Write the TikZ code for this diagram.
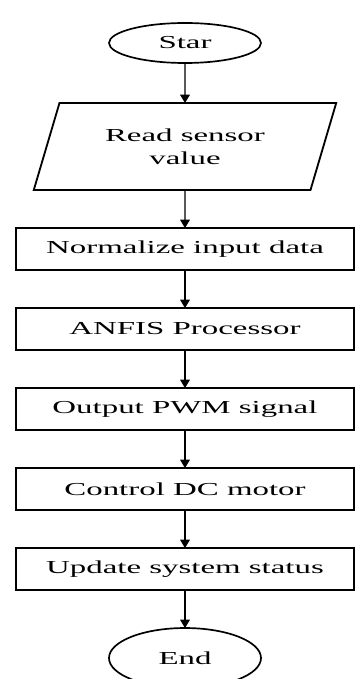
\documentclass[tikz,border=0pt]{standalone}
\usepackage{fontspec}
\setmainfont[FakeStretch=1.8]{Liberation Serif}
\usetikzlibrary{positioning, shapes.geometric, arrows.meta}

\begin{document}
\begin{tikzpicture}[
    terminal/.style={draw, line width=1.2pt, shape=ellipse, minimum width=3.8cm, minimum height=1cm, inner sep=0pt, outer sep=0pt, align=center},
    iobox/.style={draw, line width=1.3pt, shape=trapezium, trapezium left angle=69, trapezium right angle=111, trapezium stretches=true, minimum width=7.575cm, minimum height=2.175cm, outer sep=0pt, align=center},
    stepbox/.style={draw, line width=1.4pt, minimum width=8.45cm, minimum height=1.05cm, inner sep=0pt, outer sep=0pt, align=center},
    arrow/.style={-{Triangle[width=7pt, length=6pt]}, line width=0.9pt},
    font=\fontsize{13}{16.3}\selectfont
]

    % Start
    \node[terminal] (T1) {Star};
    \useasboundingbox (-4.625,1.075) rectangle (4.225,-15.9);

    % Input
    \node[iobox, below=1cm of T1] (R1) {Read sensor\\value};

    % Steps
    \node[stepbox, below=0.95cm of R1] (S1) {Normalize input data};
    \node[stepbox, below=0.95cm of S1] (S2) {ANFIS Processor};
    \node[stepbox, below=0.95cm of S2] (S3) {Output PWM signal};
    \node[stepbox, below=0.95cm of S3] (S4) {Control DC motor};
    \node[stepbox, below=0.95cm of S4] (S5) {Update system status};

    % End
    \node[terminal, minimum height=1.5cm, below=0.95cm of S5] (T2) {End};

    % Connectors
    \draw[arrow] (T1) -- (R1);
    \draw[arrow] (R1) -- (S1);
    \draw[arrow] (S1) -- (S2);
    \draw[arrow] (S2) -- (S3);
    \draw[arrow] (S3) -- (S4);
    \draw[arrow] (S4) -- (S5);
    \draw[arrow] (S5) -- (T2);

\end{tikzpicture}
\end{document}
